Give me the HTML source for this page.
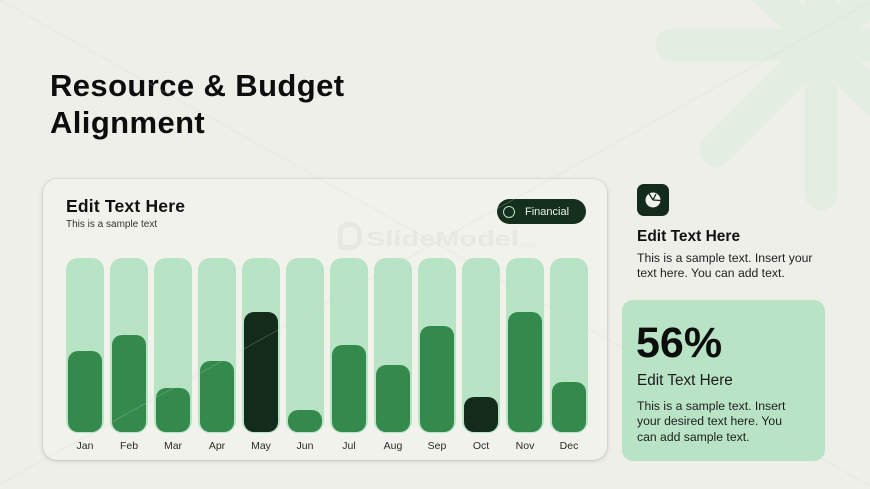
<!DOCTYPE html>
<html>
<head>
<meta charset="utf-8">
<style>
  html, body { margin:0; padding:0; }
  body { width:870px; height:489px; position:relative; overflow:hidden; background:#efefe9; font-family:"Liberation Sans", Arial, sans-serif; color:#111; }
  .abs { position:absolute; white-space:nowrap; }
  .card { position:absolute; left:43px; top:179px; width:564px; height:281px; background:#f2f2ed; border-radius:14px; box-shadow:0 1px 5px rgba(0,0,0,0.16), 0 0 0 1px rgba(0,0,0,0.04); }
  .track { position:absolute; top:258px; width:38px; height:175px; background:#b8e3c5; border-radius:12px; }
  .bar { position:absolute; width:34px; border-radius:10px; background:#338a4c; }
  .bar.dark { background:#132b1a; }
  .lbl { position:absolute; top:439px; width:44px; text-align:center; font-size:10.5px; line-height:14px; color:#2a2a2a; }
</style>
</head>
<body>
<!-- background asterisk -->
<svg class="abs" style="left:0;top:0" width="870" height="489" viewBox="0 0 870 489">
  <g stroke="#e4ede1" stroke-width="33" stroke-linecap="round">
    <line x1="821" y1="45" x2="672" y2="45"/>
    <line x1="821" y1="45" x2="821" y2="194"/>
    <line x1="821" y1="45" x2="716" y2="150"/>
    <line x1="821" y1="45" x2="821" y2="-110"/>
    <line x1="821" y1="45" x2="716" y2="-60"/>
    <line x1="821" y1="45" x2="980" y2="45"/>
    <line x1="821" y1="45" x2="926" y2="150"/>
    <line x1="821" y1="45" x2="926" y2="-60"/>
  </g>
</svg>

<div class="abs" style="left:50px;top:67px;font-size:31px;line-height:37px;font-weight:bold;letter-spacing:0.4px;color:#0d0d0d;">Resource &amp; Budget<br>Alignment</div>

<div class="card"></div>

<!-- watermark -->
<div class="abs" style="left:338px;top:222px;width:24px;height:28px;border:5px solid #e8e8e3;border-radius:10px 12px 12px 4px;box-sizing:border-box;"></div>
<div class="abs" style="left:366px;top:228px;font-size:21px;line-height:24px;font-weight:bold;color:#e8e8e3;transform:scaleX(1.38);transform-origin:left top;">SlideModel</div>
<div class="abs" style="left:519px;top:240px;font-size:8px;line-height:10px;color:#e8e8e3;">.com</div>

<div class="abs" style="left:66px;top:196px;font-size:17.5px;line-height:20px;font-weight:bold;letter-spacing:0.2px;color:#111;">Edit Text Here</div>
<div class="abs" style="left:66px;top:219px;font-size:10px;line-height:12px;color:#333;">This is a sample text</div>

<!-- pill -->
<div class="abs" style="left:497px;top:199px;width:89px;height:25px;border-radius:13px;background:#14301c;"></div>
<div class="abs" style="left:503px;top:206px;width:12px;height:12px;border-radius:50%;border:1.2px solid #b8e3c5;box-sizing:border-box;"></div>
<div class="abs" style="left:525px;top:205.5px;font-size:11px;line-height:13px;color:#f2f2ed;">Financial</div>

<!-- bars -->
<div class="track" style="left:66px"></div><div class="bar" style="left:68px;top:351px;height:81px"></div>
<div class="track" style="left:110px"></div><div class="bar" style="left:112px;top:335px;height:97px"></div>
<div class="track" style="left:154px"></div><div class="bar" style="left:156px;top:388px;height:44px"></div>
<div class="track" style="left:198px"></div><div class="bar" style="left:200px;top:361px;height:71px"></div>
<div class="track" style="left:242px"></div><div class="bar dark" style="left:244px;top:312px;height:120px"></div>
<div class="track" style="left:286px"></div><div class="bar" style="left:288px;top:410px;height:22px"></div>
<div class="track" style="left:330px"></div><div class="bar" style="left:332px;top:345px;height:87px"></div>
<div class="track" style="left:374px"></div><div class="bar" style="left:376px;top:365px;height:67px"></div>
<div class="track" style="left:418px"></div><div class="bar" style="left:420px;top:326px;height:106px"></div>
<div class="track" style="left:462px"></div><div class="bar dark" style="left:464px;top:397px;height:35px"></div>
<div class="track" style="left:506px"></div><div class="bar" style="left:508px;top:312px;height:120px"></div>
<div class="track" style="left:550px"></div><div class="bar" style="left:552px;top:382px;height:50px"></div>

<div class="lbl" style="left:63px">Jan</div>
<div class="lbl" style="left:107px">Feb</div>
<div class="lbl" style="left:151px">Mar</div>
<div class="lbl" style="left:195px">Apr</div>
<div class="lbl" style="left:239px">May</div>
<div class="lbl" style="left:283px">Jun</div>
<div class="lbl" style="left:327px">Jul</div>
<div class="lbl" style="left:371px">Aug</div>
<div class="lbl" style="left:415px">Sep</div>
<div class="lbl" style="left:459px">Oct</div>
<div class="lbl" style="left:503px">Nov</div>
<div class="lbl" style="left:547px">Dec</div>

<!-- right icon -->
<div class="abs" style="left:637px;top:184px;width:32px;height:32px;border-radius:7px;background:#132b1a;"></div>
<svg class="abs" style="left:637px;top:184px" width="32" height="32" viewBox="0 0 32 32">
  <circle cx="16" cy="16" r="7.5" fill="#f2f2ed"/>
  <path d="M16 16 L12 9.5 M16 16 L23.5 16.5 M16 16 L19 10" stroke="#132b1a" stroke-width="1.3" fill="none"/>
</svg>

<div class="abs" style="left:637px;top:228px;font-size:15.5px;line-height:18px;font-weight:bold;color:#111;">Edit Text Here</div>
<div class="abs" style="left:637px;top:251px;font-size:12.2px;line-height:15.3px;color:#222;">This is a sample text. Insert your<br>text here. You can add text.</div>

<!-- green box -->
<div class="abs" style="left:622px;top:300px;width:203px;height:161px;border-radius:11px;background:#b8e3c5;"></div>
<div class="abs" style="left:636px;top:319px;font-size:43px;line-height:48px;font-weight:bold;color:#0d0d0d;">56%</div>
<div class="abs" style="left:637px;top:372px;font-size:15.3px;line-height:18px;color:#1a1a1a;">Edit Text Here</div>
<div class="abs" style="left:637px;top:399px;font-size:12.2px;line-height:15.3px;color:#1e1e1e;">This is a sample text. Insert<br>your desired text here. You<br>can add sample text.</div>

<!-- faint diagonal lines -->
<svg class="abs" style="left:0;top:0" width="870" height="489" viewBox="0 0 870 489">
  <line x1="0" y1="484" x2="870" y2="2" stroke="#d2d2cb" stroke-width="0.7" opacity="0.35"/>
  <line x1="0" y1="0" x2="870" y2="486" stroke="#d2d2cb" stroke-width="0.7" opacity="0.35"/>
</svg>
</body>
</html>
